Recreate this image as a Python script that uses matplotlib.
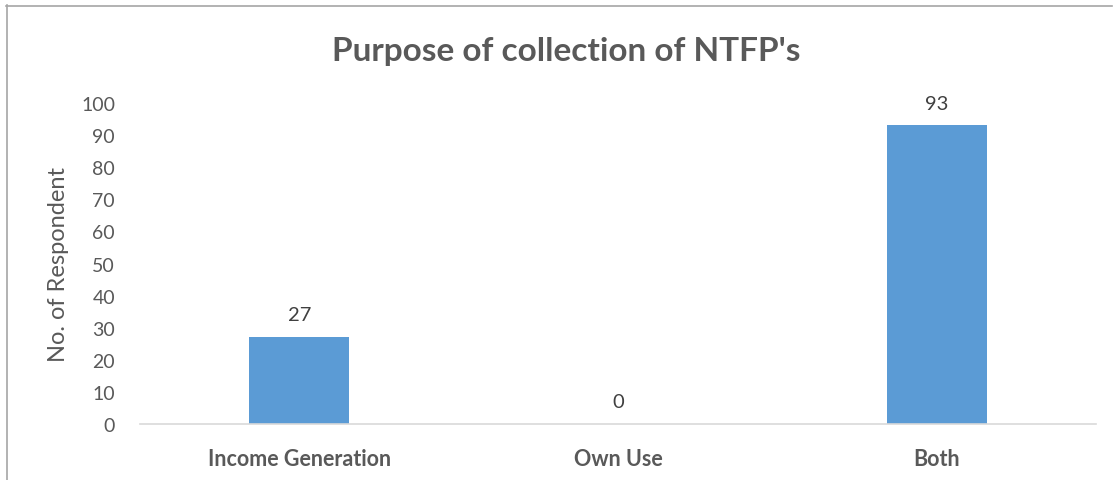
import matplotlib
matplotlib.use("Agg")
import matplotlib.pyplot as plt
from matplotlib.lines import Line2D

categories = ["Income Generation", "Own Use", "Both"]
values = [27, 0, 93]
yticks = [0, 10, 20, 30, 40, 50, 60, 70, 80, 90, 100]
title = "Purpose of collection of NTFP's"
ylabel = "No. of Respondent"

plt.rcParams['font.family'] = ['Lato', 'DejaVu Sans']
text_col = "#595959"
bar_col = "#5B9BD5"

fig = plt.figure(figsize=(11.13, 4.81), dpi=100)
ax = fig.add_axes([0.1258, 0.1164, 0.8589, 0.6674])

x = list(range(len(categories)))
ax.bar(x, values, width=0.313, color=bar_col, zorder=2)
for xi, v in zip(x, values):
    ax.annotate(str(v), (xi, v), xytext=(0, 10), textcoords="offset points",
                ha="center", va="bottom", fontsize=14.5, color="#404040")

ax.set_xlim(-0.5, len(categories) - 0.5)
ax.set_ylim(0, 100)
ax.set_yticks(yticks)
ax.set_yticklabels([str(t) for t in yticks], fontsize=14, color=text_col)
ax.set_xticks(x)
ax.set_xticklabels(categories, fontsize=15.5, fontweight="bold", color=text_col)
ax.tick_params(axis="both", length=0)
ax.tick_params(axis="y", pad=18)
ax.tick_params(axis="x", pad=17)
for s in ["top", "right", "left"]:
    ax.spines[s].set_visible(False)
ax.spines["bottom"].set_color("#D9D9D9")
ax.spines["bottom"].set_linewidth(1.2)

ax.set_ylabel(ylabel, fontsize=17, color=text_col, labelpad=9)
fig.text(0.509, 0.893, title, ha="center", va="center", fontsize=24,
         fontweight="bold", color=text_col)

# outer chart border (top and left visible)
fig.add_artist(Line2D([6/1113, 1112/1113], [1 - 6.5/481, 1 - 6.5/481],
                      transform=fig.transFigure, color="#A6A6A6", lw=1.2))
fig.add_artist(Line2D([6.5/1113, 6.5/1113], [1 - 6/481, 0],
                      transform=fig.transFigure, color="#A6A6A6", lw=1.2))

fig.savefig("out.png", dpi=100)
